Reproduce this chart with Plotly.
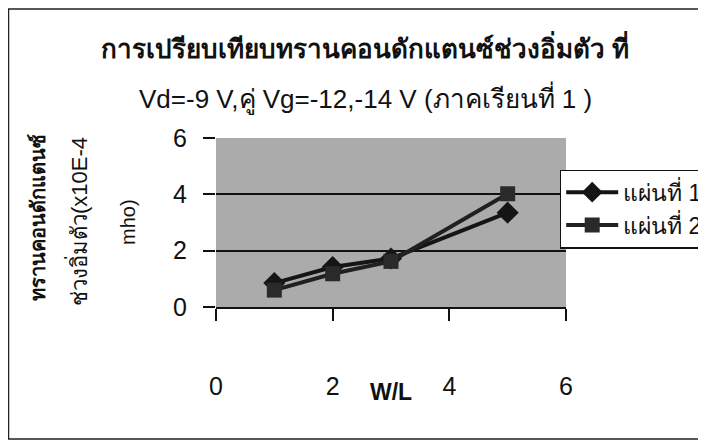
import plotly.graph_objects as go

x_wl = [1, 2, 3, 5]
sheet1 = [0.85, 1.42, 1.72, 3.35]
sheet2 = [0.60, 1.18, 1.62, 4.02]
series_names = ["แผ่นที่ 1", "แผ่นที่ 2"]
title1 = "การเปรียบเทียบทรานคอนดักแตนซ์ช่วงอิ่มตัว ที่"
title2 = "Vd=-9 V,คู่ Vg=-12,-14 V (ภาคเรียนที่ 1 )"
ylab_lines = ["ทรานคอนดักแตนซ์", "ช่วงอิ่มตัว(x10E-4", "mho)"]
xlab = "W/L"
tickvals = [0, 2, 4, 6]

FONT = "Liberation Sans, Arial, sans-serif"
W, H = 706, 441
OFF = 8  # page body margin offset
# plot area in window pixels: x 216-566, y 138-307
L, T = 216 - OFF, 138 - OFF
R = W - (566 - OFF)
B = H - (307 - OFF)

fig = go.Figure()
fig.add_trace(go.Scatter(x=x_wl, y=sheet1, name=series_names[0], mode="lines+markers",
                         line=dict(color="#151515", width=4),
                         marker=dict(symbol="diamond", size=17, color="#151515")))
fig.add_trace(go.Scatter(x=x_wl, y=sheet2, name=series_names[1], mode="lines+markers",
                         line=dict(color="#202020", width=4),
                         marker=dict(symbol="square", size=15, color="#2a2a2a")))

axis_common = dict(ticks="outside", ticklen=12, tickcolor="#111", tickwidth=1.5,
                   tickfont=dict(family=FONT, size=25, color="#111"),
                   tickvals=tickvals, zeroline=False)
fig.update_xaxes(range=[0, 6], showgrid=False, showline=True, linecolor="#111", linewidth=1.5,
                 ticklabelstandoff=44, **axis_common)
fig.update_yaxes(range=[0, 6], showgrid=True, gridcolor="#111", gridwidth=1.5,
                 showline=False, ticklabelstandoff=11, **axis_common)


def px(xw):
    return (xw - OFF - L) / (W - L - R)


def py(yw):
    return (H - B - (yw - OFF)) / (H - T - B)


fig.update_layout(
    width=W, height=H, margin=dict(l=L, r=R, t=T, b=B, autoexpand=False),
    paper_bgcolor="white", plot_bgcolor="#ababab",
    font=dict(family=FONT, color="#111"),
    showlegend=True,
    legend=dict(x=px(560), y=py(209), xanchor="left", yanchor="middle",
                bgcolor="white", bordercolor="#111", borderwidth=1.2,
                font=dict(family=FONT, size=23, color="#111"),
                itemwidth=52, tracegroupgap=0),
)

fig.add_annotation(text="<b>" + title1 + "</b>", x=px(365), y=py(47), xref="paper", yref="paper",
                   showarrow=False, font=dict(size=26, family=FONT), xanchor="center", yanchor="middle")
fig.add_annotation(text=title2, x=px(365), y=py(98), xref="paper", yref="paper",
                   showarrow=False, font=dict(size=26, family=FONT), xanchor="center", yanchor="middle")
fig.add_annotation(text="<b>" + xlab + "</b>", x=px(391), y=py(392), xref="paper", yref="paper",
                   showarrow=False, font=dict(size=23, family=FONT), xanchor="center", yanchor="middle")
ypos = [(38, 218, True, 20), (78, 222, False, 22), (128, 222, False, 20)]
for txt, (xx, yy, bold, fs) in zip(ylab_lines, ypos):
    fig.add_annotation(text=("<b>" + txt + "</b>") if bold else txt, x=px(xx), y=py(yy),
                       xref="paper", yref="paper", showarrow=False, textangle=-90,
                       font=dict(size=fs, family=FONT), xanchor="center", yanchor="middle")

fig.add_shape(type="rect", xref="paper", yref="paper", x0=px(8.5), x1=px(720), y0=py(9), y1=py(439),
              line=dict(color="#222", width=1.5), fillcolor="rgba(0,0,0,0)", layer="below")

fig.write_html("out.html")
